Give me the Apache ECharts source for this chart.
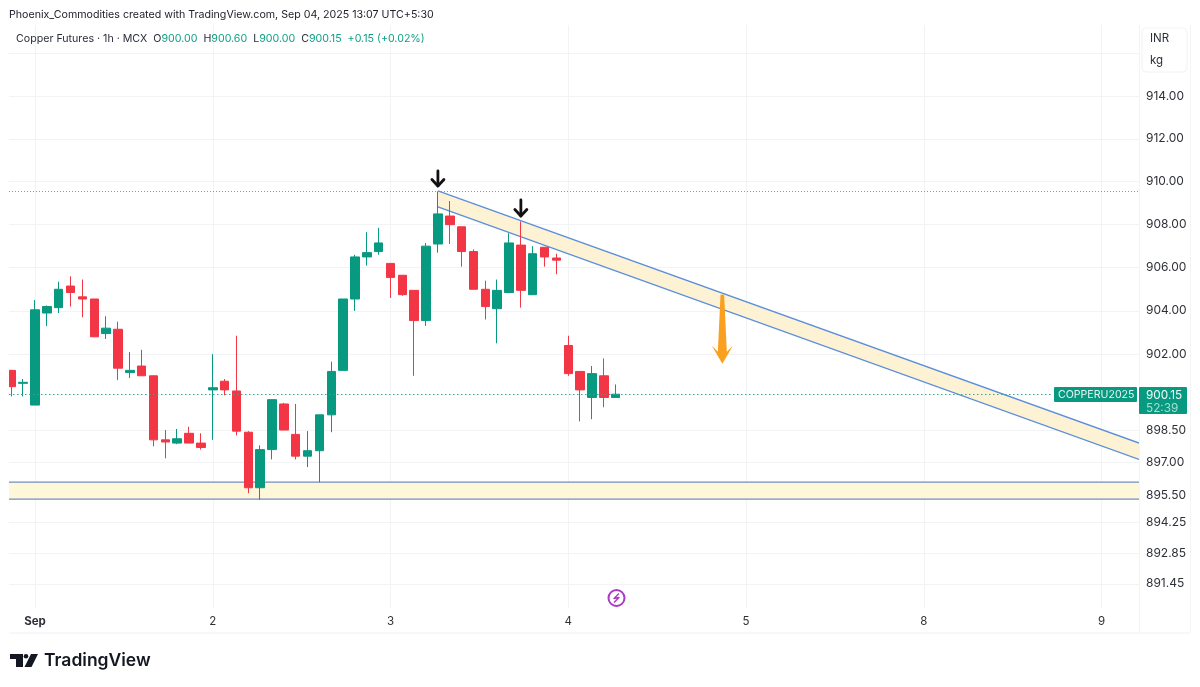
<!DOCTYPE html>
<html>
<head>
<meta charset="utf-8">
<title>Copper Futures 1h</title>
<script src="https://cdn.jsdelivr.net/npm/echarts@6/dist/echarts.min.js"></script>
<style>
html,body{margin:0;padding:0;background:#fff}
#chart{width:1200px;height:687px}
</style>
</head>
<body>
<div id="chart"></div>
<script>
// Hourly candles, one row per bar: open, close, low, high
const candles = [
  [901.25,900.50,900.05,901.25],[900.65,900.70,900.05,900.85],[899.65,904.05,899.65,904.50],
  [903.90,904.20,903.30,904.25],[904.15,905.00,903.90,905.35],[905.15,904.85,904.20,905.60],
  [904.65,904.55,903.70,905.45],[904.55,902.80,902.80,904.55],[902.95,903.20,902.70,903.75],
  [903.15,901.35,900.80,903.50],[901.15,901.25,900.90,902.10],[901.45,901.00,901.00,902.20],
  [901.00,898.05,897.75,901.00],[898.05,897.95,897.20,898.50],[897.90,898.10,897.85,898.55],
  [898.35,897.90,897.90,898.65],[897.90,897.70,897.60,898.35],[900.35,900.45,898.05,902.00],
  [900.75,900.35,900.10,900.85],[900.30,898.45,898.25,902.85],[898.40,895.85,895.60,898.45],
  [895.85,897.60,895.30,897.80],[897.60,899.90,897.15,899.90],[899.70,898.50,898.50,899.75],
  [898.30,897.30,897.15,899.70],[897.30,897.55,896.80,898.45],[897.55,899.20,896.10,899.20],
  [899.20,901.20,898.40,901.65],[901.25,904.55,901.25,904.55],[904.55,906.50,904.00,906.60],
  [906.50,906.70,906.10,907.65],[906.75,907.15,906.60,907.85],[906.20,905.55,904.60,906.20],
  [905.65,904.75,904.70,905.65],[904.95,903.55,901.00,904.95],[903.55,907.00,903.30,907.15],
  [907.10,908.50,906.70,909.55],[908.40,908.00,907.10,909.10],[907.90,906.75,906.05,907.90],
  [906.75,905.00,905.00,906.85],[905.00,904.20,903.60,905.40],[904.10,904.95,902.50,905.45],
  [904.85,907.15,904.85,907.60],[907.05,904.95,904.15,908.15],[904.75,906.65,904.75,907.00],
  [906.95,906.50,906.05,906.95],[906.45,906.35,905.70,906.65],[902.40,901.10,901.00,902.85],
  [901.20,900.35,898.90,901.20],[900.00,901.10,899.00,901.45],[901.00,900.00,899.55,901.80],
  [900.00,900.15,900.00,900.60]
];

// Price scale: grid levels and the ones that carry a label
const priceTicks = [916, 914, 912, 910, 908, 906, 904, 902, 898.5, 897, 895.5, 894.25, 892.85, 891.45];
const hiddenPriceTicks = [916];
// Session starts on the time scale, as bar positions, and their labels
const dayBars = [2, 17, 32, 47, 62, 77, 92];
const dayLabels = ['Sep', '2', '3', '4', '5', '8', '9'];

// Visible ranges of both scales
const barRange = [-0.194, 95.16];
const priceRange = [890.35, 917.33];

// Drawing levels
const lastClose = 900.15;
const swingHigh = 909.57;
const channelUpper = [[36, 909.57], [95.16, 897.9]];
const channelLower = [[36, 908.83], [95.16, 897.15]];
const supportZone = [896.11, 895.33];
// Markers: black arrows above the swing highs, orange arrow from the channel
const blackArrows = [[36, 910.5, 909.8], [43, 909.15, 908.4]];
const orangeArrow = [[60, 904.75, 901.55]];

const GREEN = '#089981';
const RED = '#F23645';
const LINE_BLUE = '#5B8FD9';
const ZONE = '#FDF3D4';
const GRID = '#F2F3F5';
const TEXT = '#2E3138';

const barData = candles.map((c, i) => [i, c[0], c[1], c[2], c[3]]);

function channelItem(params, api) {
  const a = api.coord(channelUpper[0]);
  const b = api.coord(channelUpper[1]);
  const c = api.coord(channelLower[1]);
  const d = api.coord(channelLower[0]);
  return {
    type: 'group',
    children: [
      { type: 'polygon', shape: { points: [a, b, c, d] }, style: { fill: ZONE } },
      { type: 'line', shape: { x1: a[0], y1: a[1], x2: b[0], y2: b[1] }, style: { stroke: LINE_BLUE, lineWidth: 1.4 } },
      { type: 'line', shape: { x1: d[0], y1: d[1], x2: c[0], y2: c[1] }, style: { stroke: LINE_BLUE, lineWidth: 1.4 } }
    ]
  };
}

function zoneItem(params, api) {
  const top = api.coord([barRange[0], supportZone[0]]);
  const end = api.coord([barRange[1], supportZone[1]]);
  return {
    type: 'group',
    children: [
      { type: 'rect', shape: { x: top[0], y: top[1], width: end[0] - top[0], height: end[1] - top[1] }, style: { fill: '#FEF7DA' } },
      { type: 'line', shape: { x1: top[0], y1: top[1], x2: end[0], y2: top[1] }, style: { stroke: '#6F8FC4', lineWidth: 1.3 } },
      { type: 'line', shape: { x1: top[0], y1: end[1], x2: end[0], y2: end[1] }, style: { stroke: '#6F8FC4', lineWidth: 1.3 } }
    ]
  };
}

function blackArrowItem(params, api) {
  const t = api.coord([api.value(0), api.value(1)]);
  const b = api.coord([api.value(0), api.value(2)]);
  return {
    type: 'group',
    children: [
      { type: 'line', shape: { x1: t[0], y1: t[1], x2: b[0], y2: b[1] },
        style: { stroke: '#111', lineWidth: 2.8, lineCap: 'round' } },
      { type: 'polyline', shape: { points: [[b[0] - 6, b[1] - 6.5], [b[0], b[1]], [b[0] + 6, b[1] - 6.5]] },
        style: { stroke: '#111', fill: null, lineWidth: 2.8, lineCap: 'round', lineJoin: 'round' } }
    ]
  };
}

function orangeArrowItem(params, api) {
  const t = api.coord([api.value(0), api.value(1)]);
  const b = api.coord([api.value(0), api.value(2)]);
  const wing = b[1] - 18;
  const neck = b[1] - 12;
  return {
    type: 'polygon',
    shape: { points: [
      [t[0] - 1.8, t[1]], [t[0] + 1.8, t[1]], [t[0] + 4.5, neck], [t[0] + 10.5, wing],
      [b[0], b[1]], [t[0] - 10.5, wing], [t[0] - 4.5, neck]
    ] },
    style: { fill: '#FB9F1F' }
  };
}

const chart = echarts.init(document.getElementById('chart'), null, { renderer: 'canvas' });

chart.setOption({
  animation: false,
  backgroundColor: '#ffffff',
  textStyle: { fontFamily: 'Inter, Roboto, sans-serif' },
  title: [
    {
      text: 'Phoenix_Commodities created with TradingView.com, Sep 04, 2025 13:07 UTC+5:30',
      left: 4, top: 4,
      textStyle: { fontSize: 10.65, fontWeight: 400, color: '#20232B', fontFamily: 'Inter, sans-serif' }
    },
    {
      text: '{n|Copper Futures · 1h · MCX  O}{g|900.00}{n|  H}{g|900.60}{n|  L}{g|900.00}{n|  C}{g|900.15}{g|  +0.15 (+0.02%)}',
      left: 11, top: 28,
      textStyle: {
        fontSize: 10.65,
        fontWeight: 400,
        rich: {
          n: { fontSize: 10.65, fontWeight: 400, color: '#2A2E39', fontFamily: 'Inter, sans-serif' },
          g: { fontSize: 10.65, fontWeight: 400, color: '#0D9F85', fontFamily: 'Inter, sans-serif' }
        }
      }
    }
  ],
  grid: { left: 9, right: 61, top: 25, bottom: 79, containLabel: false },
  xAxis: {
    type: 'value',
    min: barRange[0],
    max: barRange[1],
    axisLine: { show: false },
    axisTick: { show: false, customValues: dayBars },
    splitLine: { show: true, lineStyle: { color: GRID, width: 1 } },
    axisLabel: {
      customValues: dayBars,
      margin: 8,
      fontSize: 11.5,
      color: TEXT,
      hideOverlap: false,
      showMinLabel: true,
      showMaxLabel: true,
      formatter: function (v) {
        const k = dayBars.indexOf(Math.round(v));
        const s = k >= 0 ? dayLabels[k] : '';
        return k === 0 ? '{b|' + s + '}' : s;
      },
      rich: { b: { fontWeight: 700, fontSize: 11.5, color: TEXT } }
    }
  },
  yAxis: {
    type: 'log',
    logBase: 10,
    position: 'right',
    min: priceRange[0],
    max: priceRange[1],
    scale: true,
    axisLine: { show: false },
    axisTick: { show: false, customValues: priceTicks },
    splitLine: { show: true, lineStyle: { color: GRID, width: 1 } },
    axisLabel: {
      customValues: priceTicks.filter(v => hiddenPriceTicks.indexOf(v) < 0),
      margin: 7,
      fontSize: 12,
      color: TEXT,
      align: 'left',
      formatter: v => Number(v).toFixed(2)
    }
  },
  series: [
    {
      type: 'custom', name: 'Support zone', data: [[0, supportZone[0]]],
      renderItem: zoneItem, silent: true, z: 2, clip: true
    },
    {
      type: 'custom', name: 'Channel', data: [[36, swingHigh]],
      renderItem: channelItem, silent: true, z: 3, clip: true
    },
    {
      type: 'candlestick', name: 'Copper Futures',
      data: barData,
      encode: { x: 0, y: [1, 2, 3, 4] },
      barWidth: 9,
      z: 4,
      clip: true,
      itemStyle: { color: GREEN, color0: RED, borderColor: GREEN, borderColor0: RED, borderWidth: 1 },
      markLine: {
        silent: true, symbol: 'none', label: { show: false }, animation: false,
        data: [
          [{ coord: [barRange[0], lastClose], lineStyle: { color: '#2FA893', type: [1.5, 2.5], width: 1 } },
           { coord: [87.7, lastClose] }],
          [{ coord: [barRange[0], swingHigh], lineStyle: { color: '#8E939C', type: [1, 2], width: 1 } },
           { coord: [barRange[1], swingHigh] }]
        ]
      }
    },
    {
      type: 'custom', name: 'Swing markers', data: blackArrows,
      renderItem: blackArrowItem, silent: true, z: 6,
      encode: { x: 0, y: [1, 2] }
    },
    {
      type: 'custom', name: 'Target arrow', data: orangeArrow,
      renderItem: orangeArrowItem, silent: true, z: 6,
      encode: { x: 0, y: [1, 2] }
    }
  ],
  graphic: [
    // Left margin of the pane, so bars end at its edge
    { type: 'rect', shape: { x: 0, y: 25, width: 9, height: 610 }, style: { fill: '#fff' }, silent: true, z: 15 },

    // Frame lines around the time scale and the price column
    { type: 'line', shape: { x1: 9, y1: 633, x2: 1190, y2: 633 }, style: { stroke: '#EEF0F2', lineWidth: 1 }, silent: true },
    { type: 'line', shape: { x1: 1139.5, y1: 25, x2: 1139.5, y2: 633 }, style: { stroke: '#F3F4F6', lineWidth: 1 }, silent: true },
    { type: 'line', shape: { x1: 1190.5, y1: 25, x2: 1190.5, y2: 633 }, style: { stroke: '#F3F4F6', lineWidth: 1 }, silent: true },

    // Currency and unit box
    { type: 'rect', shape: { x: 1142, y: 28, width: 45, height: 44, r: 4 }, style: { fill: '#fff', stroke: '#F1F2F4', lineWidth: 1 }, silent: true },
    { type: 'text', x: 1150, y: 33, style: { text: 'INR', font: '11.5px Inter, sans-serif', fill: TEXT }, silent: true },
    { type: 'text', x: 1150, y: 55, style: { text: 'kg', font: '11.5px Inter, sans-serif', fill: TEXT }, silent: true },

    // Last price tags
    { type: 'rect', shape: { x: 1054, y: 387, width: 83, height: 15, r: 1 }, style: { fill: GREEN }, silent: true, z: 20 },
    { type: 'text', x: 1058, y: 389, z: 21, style: { text: 'COPPERU2025', font: '10.6px Inter, sans-serif', fill: '#E6F5F1' }, silent: true },
    { type: 'rect', shape: { x: 1139, y: 387, width: 48, height: 27, r: 1 }, style: { fill: GREEN }, silent: true, z: 20 },
    { type: 'text', x: 1146, y: 389, z: 21, style: { text: lastClose.toFixed(2), font: '11.8px Inter, sans-serif', fill: '#F2FBF8' }, silent: true },
    { type: 'text', x: 1146, y: 402, z: 21, style: { text: '52:39', font: '11.8px Inter, sans-serif', fill: '#A9DDD1' }, silent: true },

    // Lightning marker on the pane
    { type: 'circle', shape: { cx: 616.5, cy: 598, r: 8 }, style: { fill: '#fff', stroke: '#A93BC4', lineWidth: 2 }, silent: true, z: 20 },
    { type: 'polyline', shape: { points: [[619, 593.5], [614, 598.5], [619, 597.5], [614, 602.5]] }, style: { stroke: '#A93BC4', fill: null, lineWidth: 1.4, lineJoin: 'round' }, silent: true, z: 21 },

    // Wordmark
    { type: 'polygon', shape: { points: [[10, 654], [23, 654], [23, 667], [16, 667], [16, 659], [10, 659]] }, style: { fill: '#131722' }, silent: true },
    { type: 'circle', shape: { cx: 26, cy: 656.2, r: 2.3 }, style: { fill: '#131722' }, silent: true },
    { type: 'polygon', shape: { points: [[31, 654], [38, 654], [31.5, 667], [24.5, 667]] }, style: { fill: '#131722' }, silent: true },
    { type: 'text', x: 44, y: 652, style: { text: 'TradingView', font: '600 17.5px Inter, sans-serif', fill: '#131722' }, silent: true }
  ]
});
</script>
</body>
</html>
